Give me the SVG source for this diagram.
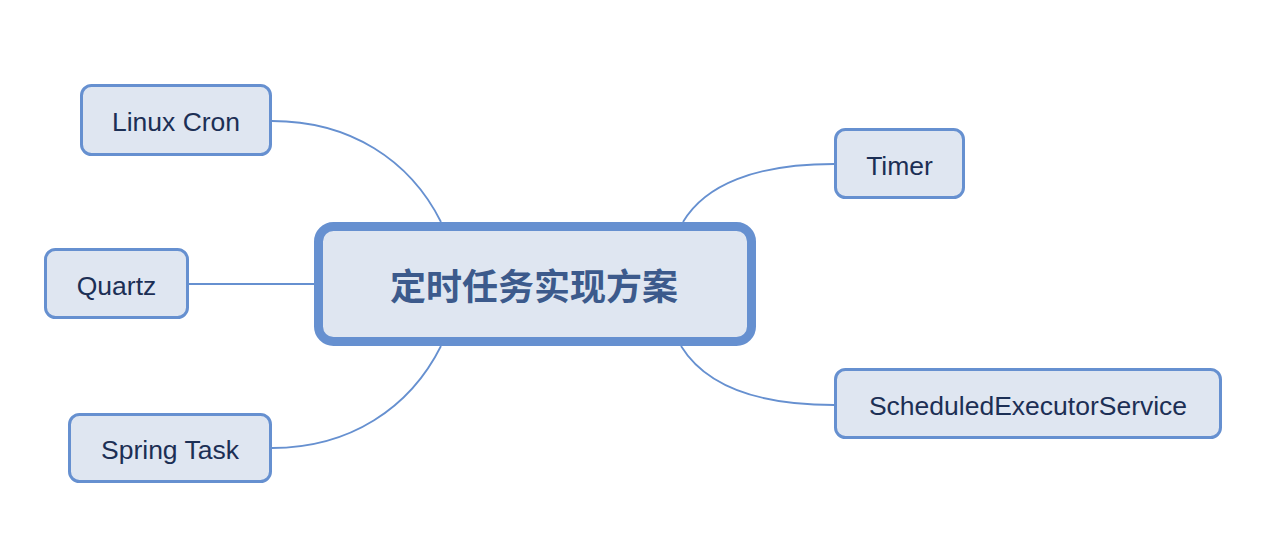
<svg xmlns="http://www.w3.org/2000/svg" width="1268" height="550" viewBox="0 0 1268 550">
  <style>
    .bg { fill: #ffffff; }
    .edge { fill: none; stroke: #6690d0; stroke-width: 1.8; }
    .box { fill: #dfe6f1; stroke: #6690d0; stroke-width: 3; }
    .root { fill: #dfe6f1; stroke: #6690d0; stroke-width: 9; }
    .label { font-family: "Liberation Sans", Arial, sans-serif; font-size: 26.5px; fill: #1c2f55; text-anchor: middle; dominant-baseline: central; }
    .rootlabel { font-family: "Noto Sans CJK SC", "Noto Sans", sans-serif; font-weight: 700; font-size: 36px; fill: #3c5a8c; text-anchor: middle; dominant-baseline: central; }
  </style>
  <rect class="bg" x="0" y="0" width="1268" height="550"/>
  <g id="connectors">
    <path class="edge" d="M272,121 C350,121 410,160 441,222"/>
    <path class="edge" d="M189,284 L314,284"/>
    <path class="edge" d="M441,346 C410,408 350,448 272,448"/>
    <path class="edge" d="M683,222 C705,185 755,164 834,164"/>
    <path class="edge" d="M681,346 C705,385 755,405 834,405"/>
  </g>
  <g id="root">
    <rect class="root" x="318.5" y="226.5" width="433" height="115" rx="15"/>
    <text class="rootlabel" x="534" y="284">定时任务实现方案</text>
  </g>
  <g id="linux-cron">
    <rect class="box" x="81.5" y="85.5" width="189" height="69" rx="10"/>
    <text class="label" x="176" y="121.5">Linux Cron</text>
  </g>
  <g id="quartz">
    <rect class="box" x="45.5" y="249.5" width="142" height="68" rx="10"/>
    <text class="label" x="116.5" y="285.5">Quartz</text>
  </g>
  <g id="spring-task">
    <rect class="box" x="69.5" y="414.5" width="201" height="67" rx="10"/>
    <text class="label" x="170" y="449.5">Spring Task</text>
  </g>
  <g id="timer">
    <rect class="box" x="835.5" y="129.5" width="128" height="68" rx="10"/>
    <text class="label" x="899.5" y="165.5">Timer</text>
  </g>
  <g id="scheduled-executor-service">
    <rect class="box" x="835.5" y="369.5" width="385" height="68" rx="10"/>
    <text class="label" x="1028" y="405.5">ScheduledExecutorService</text>
  </g>
</svg>
